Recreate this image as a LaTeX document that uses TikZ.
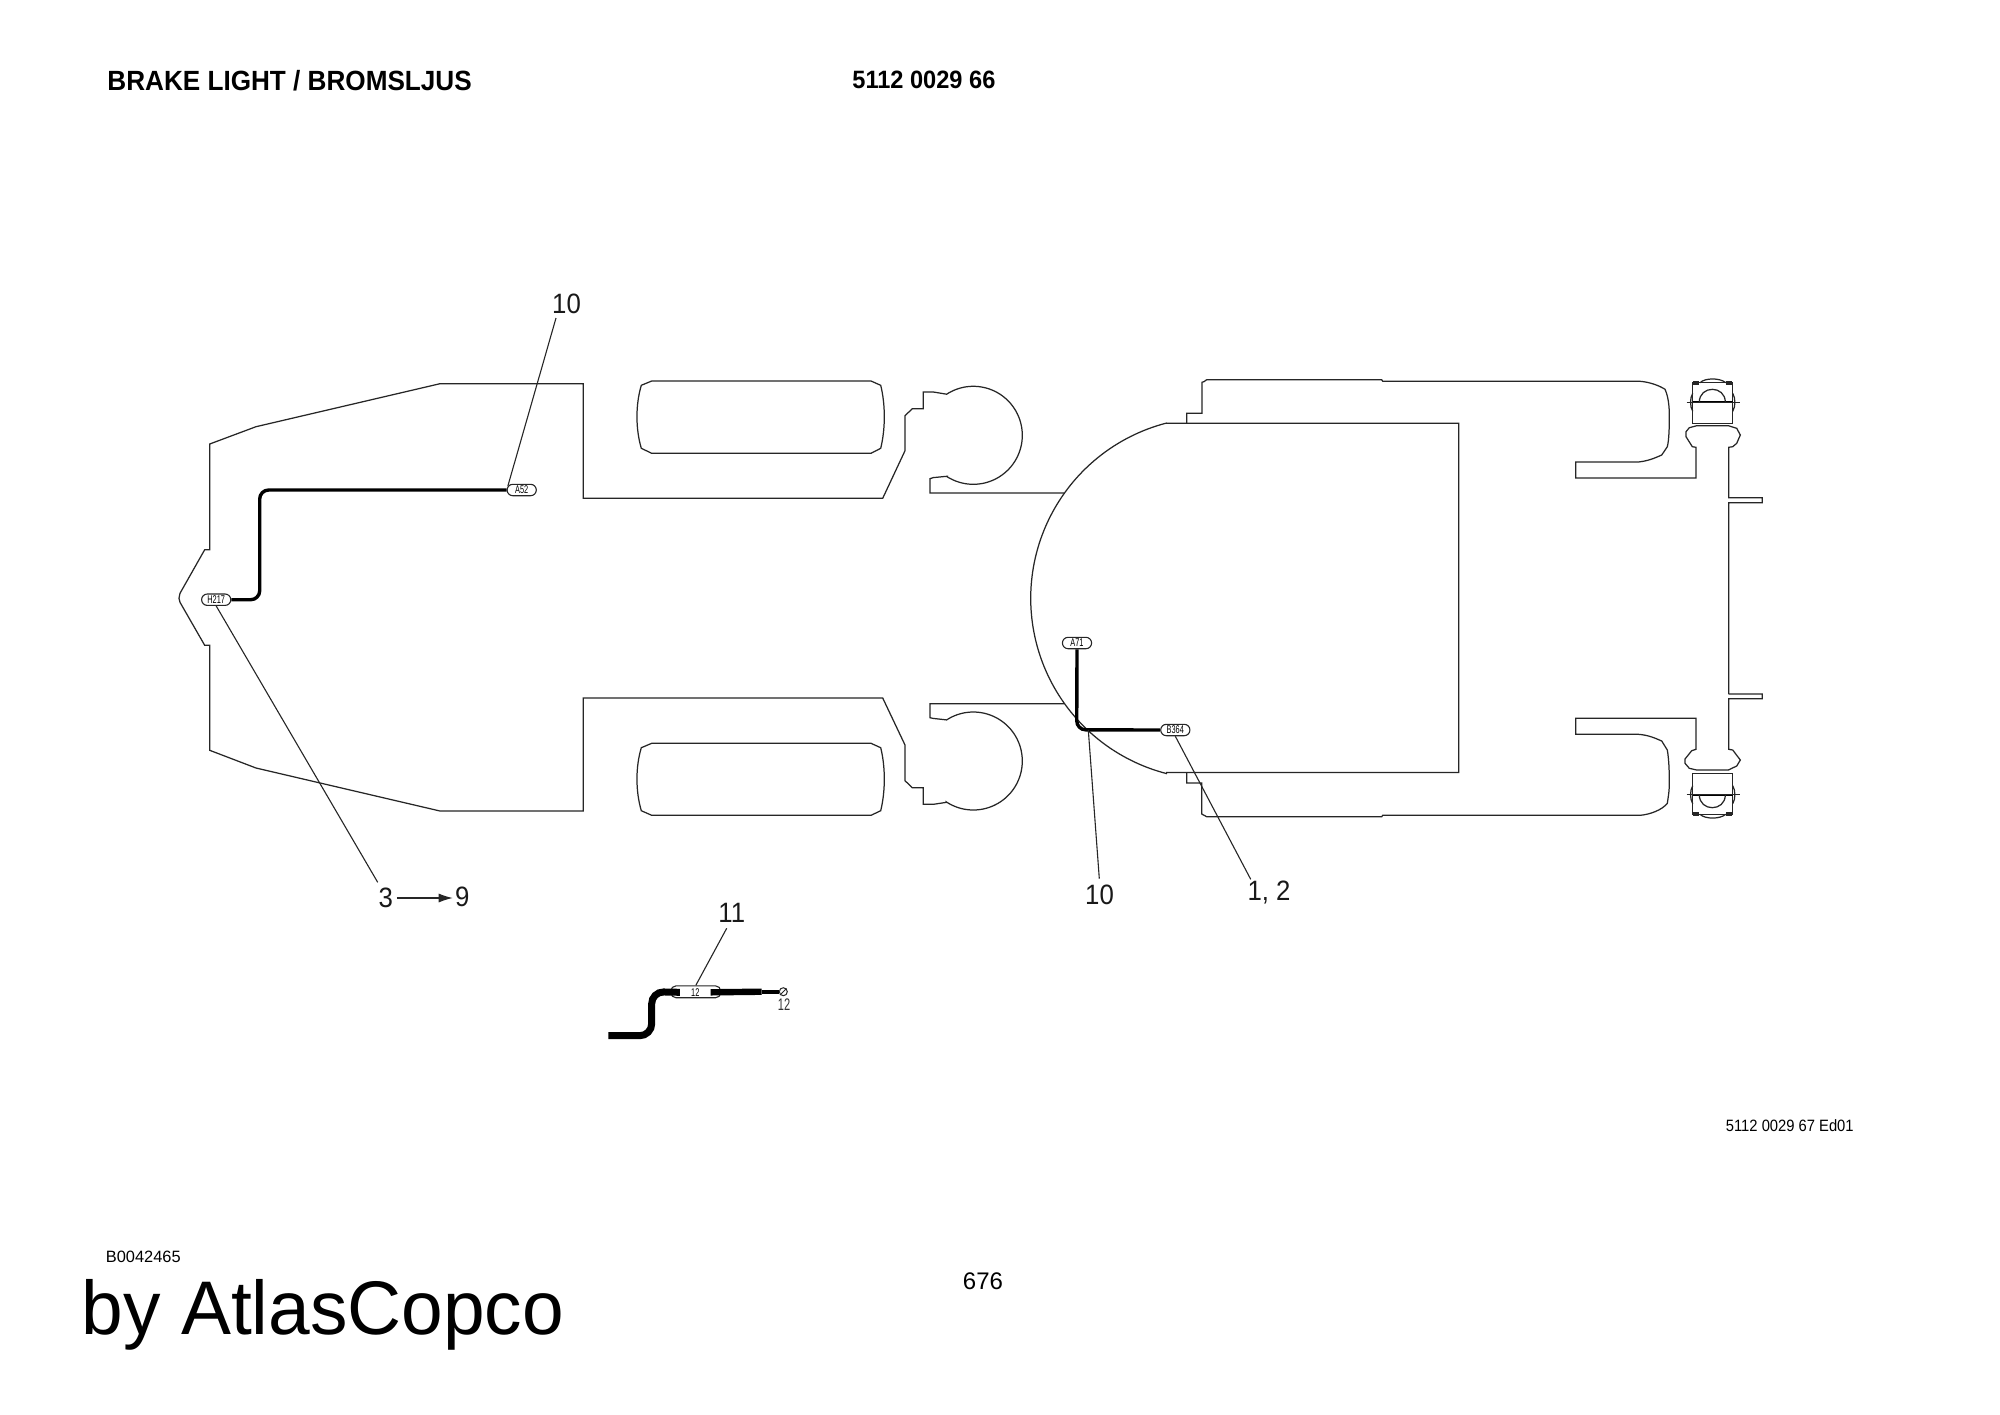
\documentclass[tikz,border=0pt]{standalone}
\usepackage{fontspec}
\setmainfont{Liberation Sans}
\newfontfamily\cadfont[FakeStretch=0.66]{Liberation Sans}
\newfontfamily\numfont[FakeStretch=0.92]{Liberation Sans}
\newfontfamily\narrowfont[FakeStretch=0.9]{Liberation Sans}
\newfontfamily\brandfont[FakeStretch=0.985]{Liberation Sans}
\newfontfamily\headfont[FakeStretch=0.94]{Liberation Sans Bold}
\usetikzlibrary{shapes.misc,arrows.meta,calc}
\tikzset{
  outline/.style={draw=black!85,line width=0.62pt,line join=miter},
  wire/.style={draw=black,line width=1.7pt,rounded corners=4.5pt},
  leader/.style={draw=black!85,line width=0.55pt},
  tag/.style={shape=rounded rectangle,draw=black!85,fill=white,line width=0.55pt,minimum width=14.6pt,minimum height=5.7pt,inner sep=0pt,font=\cadfont\fontsize{5.6}{5.6}\selectfont},
  num/.style={inner sep=0pt,text=black!90,font=\numfont\fontsize{14}{14}\selectfont}
}
\begin{document}
\begin{tikzpicture}[x=0.5pt,y=-0.5pt]
\useasboundingbox (0,0) rectangle (2000,1414);
\fill[white] (0,0) rectangle (2000,1414);
% chassis, front
\draw[outline] (1064,493) -- (930,493) -- (930,478.7) -- (933.3,477.6) -- (946.7,476.3)
  -- plot[domain=-123:123,samples=90] ({973.3+49*cos(\x)},{435.3-49*sin(\x)})
  -- (933.3,392) -- (923.3,392) -- (923.3,408.7) -- (912.3,408.7) -- (905,415.7) -- (905,450.7) -- (882.7,498.3)
  -- (583.3,498.3) -- (583.3,383.7) -- (440,383.7) -- (256,426.7) -- (209.7,444) -- (209.7,549.7) -- (204.7,549.7)
  -- (180,593.3) -- (179,598.3) -- (180,602.3) -- (204.7,645.3) -- (209.7,645.3) -- (209.7,750.3) -- (256,768)
  -- (440,811) -- (583.3,811) -- (583.3,698) -- (882.7,698) -- (905,745) -- (905,780.7) -- (912.3,787.7)
  -- (923.3,787.7) -- (923.3,804.3) -- (933.3,804.3) -- (946.7,802.3)
  -- plot[domain=-123:123,samples=90] ({973.3+49*cos(\x)},{761-49*sin(\x)})
  -- (933.3,718.4) -- (930,717.7) -- (930,703.7) -- (1064,703.7);
% tyres
\foreach \t/\b/\c/\d/\m in {381/453.3/385.3/448.3/416.7,743.3/815.3/747.7/810.7/779}{
\draw[outline] (651.7,\t) -- (871,\t) -- (880.7,\c) .. controls (885.5,{\m-12}) and (885.5,{\m+12}) .. (880.7,\d)
  -- (871,\b) -- (651.7,\b) -- (641.3,\d) .. controls (635.5,{\m+12}) and (635.5,{\m-12}) .. (641.3,\c) -- cycle;
}
% cab
\draw[outline] (1166.7,423.3) -- (1458.7,423.3) -- (1458.7,772.5) -- (1166.7,772.5)
  -- plot[domain=255.5:104.5,samples=100] ({1211.7+181*cos(\x)},{598.3-181*sin(\x)}) -- cycle;
% rear frame
\draw[outline] (1186.7,423.3) -- (1186.7,413.3) -- (1202,413.3) -- (1202,382.3) -- (1204,381.6) -- (1206.7,379.7)
  -- (1381.7,379.7) -- (1382.7,381.3) -- (1640,381.3) .. controls (1650,382) and (1660,386) .. (1665,389.3)
  .. controls (1668,396) and (1669.3,405) .. (1669.3,415) .. controls (1669.3,428) and (1669,440) .. (1667.3,446.7)
  -- (1661.7,455) .. controls (1655,458) and (1648,461) .. (1638.3,462) -- (1575.7,462) -- (1575.7,478) -- (1696,478)
  -- (1696,447.3) -- (1692.3,446.7) -- (1686,436.7) -- (1686,431.7) -- (1689.3,427.7) -- (1696.7,425.7) -- (1728.3,425.7)
  -- (1736.7,428.3) -- (1740.3,435) -- (1736.7,443.3) -- (1732.7,446.7) -- (1728.7,447.3) -- (1728.7,497.7) -- (1762.3,497.7)
  -- (1762.3,502.7) -- (1728.7,502.7) -- (1728.7,694);
\draw[outline] (1728.7,694) -- (1762.3,694) -- (1762.3,698.7) -- (1728.7,698.7) -- (1728.7,749.3) -- (1732.7,750)
  -- (1740.3,760) -- (1736.7,766) -- (1728.3,770) -- (1696.7,770) -- (1689.3,768.3) -- (1685,763.3) -- (1685,759)
  -- (1691.7,750.7) -- (1696,749.3) -- (1696,718.3) -- (1575.7,718.3) -- (1575.7,734.3) -- (1638.3,734.3)
  .. controls (1648,735) and (1655,738) .. (1661.7,741) -- (1667.3,750) .. controls (1669,760) and (1669.3,772) .. (1669.3,783)
  .. controls (1669.3,792) and (1668,798) .. (1667.3,803.3) .. controls (1662,810) and (1650,814.5) .. (1640,815.3)
  -- (1382.7,815.3) -- (1381.7,816.7) -- (1206.7,816.7) -- (1201.7,814) -- (1201.7,783) -- (1186.7,783) -- (1186.7,772.5);
% lamps
\foreach \b/\s in {402.3/1,794.7/-1}{
  \draw[outline] (1692.7,{\b-\s*19.6}) rectangle (1732.7,{\b+\s*21});
  \draw[draw=black,line width=1.1pt] (1692.7,\b) -- (1732.7,\b);
  \draw[outline,line width=0.5pt] (1686.7,\b) -- (1740,\b);
  \draw[outline] (1699.3,\b) .. controls (1699.3,{\b-\s*17.3}) and (1725.3,{\b-\s*17.3}) .. (1725.3,\b);
  \draw[outline] (1700,{\b-\s*19.6}) .. controls (1705,{\b-\s*24.6}) and (1720,{\b-\s*24.6}) .. (1725.7,{\b-\s*19.6});
  \draw[outline] (1693.6,{\b-\s*20.6}) rectangle (1698.6,{\b-\s*18.4});
  \draw[outline] (1726.6,{\b-\s*20.6}) rectangle (1731.6,{\b-\s*18.4});
  \draw[outline] (1692.7,{\b-\s*9}) .. controls (1689.8,{\b-\s*4}) and (1689.8,{\b+\s*4}) .. (1692.7,{\b+\s*9});
  \draw[outline] (1732.7,{\b-\s*9}) .. controls (1735.6,{\b-\s*4}) and (1735.6,{\b+\s*4}) .. (1732.7,{\b+\s*9});
}
% connector tags
\node[tag] (h217) at (216.2,599.7) {H217};
\node[tag] (a52) at (521.7,490) {A52};
\node[tag] (a71) at (1077,643) {A71};
\node[tag] (b364) at (1175.3,730) {B364};
% harnesses
\draw[wire] (h217.east) -- (259.7,599.7) -- (259.7,490) -- (a52.west);
\draw[wire] (a71.south) -- (1076.7,729.8) -- (b364.west);
% item numbers
\node[num] (n10a) at (566.5,304) {10};
\node[num] (n3) at (385.7,898) {3};
\node[num] (n9) at (462.3,897) {9};
\node[num] (n10b) at (1099.5,894.5) {10};
\node[num] (n12) at (1269,892.5) {1, 2};
\node[num] (n11) at (731.7,912.7) {11};
% leaders
\coordinate (l10a) at (556,318);
\coordinate (l3) at (377.7,882.3);
\coordinate (l10b) at (1099.3,878.7);
\coordinate (w10b) at (1088.3,730);
\coordinate (l12) at (1250.7,879.3);
\coordinate (l11) at (726.7,928.3);
\draw[leader] (l10a) -- (a52.165);
\draw[leader] (l3) -- (h217.south);
\draw[leader] (l10b) -- (w10b);
\draw[leader] (l12) -- (b364.south);
\draw[-{Latex[length=7pt,width=4.5pt]},leader] ($(n3.east)+(3.5,0)$) -- ($(n9.west)+(-2,1)$);
% fuse assembly
\node[shape=rectangle,rounded corners=2.5pt,draw=black!85,line width=0.55pt,minimum width=24.9pt,minimum height=5.9pt,inner sep=0pt] (fuse) at (695.8,991.8) {};
\node[inner sep=0pt,minimum width=15pt,minimum height=5pt,font=\cadfont\fontsize{5.6}{5.6}\selectfont] (fuselabel) at (695.3,992.3) {12};
\node[circle,draw=black!85,line width=0.5pt,minimum size=4pt,inner sep=0pt] (screw) at (783.3,991.7) {};
\coordinate (cableend) at (608.3,1035.7);
\coordinate (sleeveend) at (761.7,991.7);
\draw[draw=black,line width=3.5pt,rounded corners=6pt] (cableend) -- (651.7,1035.7) -- (651.7,991.7) -- (fuselabel.west);
\draw[draw=black,line width=3.2pt] (fuselabel.east) -- (sleeveend);
\draw[draw=black,line width=1.9pt] (sleeveend) -- (screw.west);
\draw[draw=black!85,line width=0.5pt] (screw.south west) -- (screw.north east);
\draw[leader] (l11) -- (fuse.north);
\node[inner sep=0pt,text=black!80,font=\cadfont\fontsize{8.4}{8.4}\selectfont] (n12b) at (784,1004.3) {12};
% page texts
\node[anchor=west,inner sep=0pt,font=\headfont\fontsize{13.9}{14}\selectfont] (title) at (107,80.5) {BRAKE LIGHT / BROMSLJUS};
\node[anchor=west,inner sep=0pt,font=\headfont\fontsize{12.55}{14}\selectfont] (partno) at (852,80) {5112 0029 66};
\node[anchor=west,inner sep=0pt,font=\narrowfont\fontsize{8.2}{9}\selectfont] (drawno) at (1725.5,1126) {5112 0029 67 Ed01};
\node[anchor=west,inner sep=0pt,font=\fontsize{8.2}{9}\selectfont] (bno) at (105.5,1257) {B0042465};
\node[inner sep=0pt,font=\fontsize{12}{14}\selectfont] (page) at (983,1281) {676};
\node[anchor=base west,inner sep=0pt,font=\brandfont\fontsize{38}{40}\selectfont] (brand) at (81,1334) {by AtlasCopco};
\end{tikzpicture}
\end{document}
